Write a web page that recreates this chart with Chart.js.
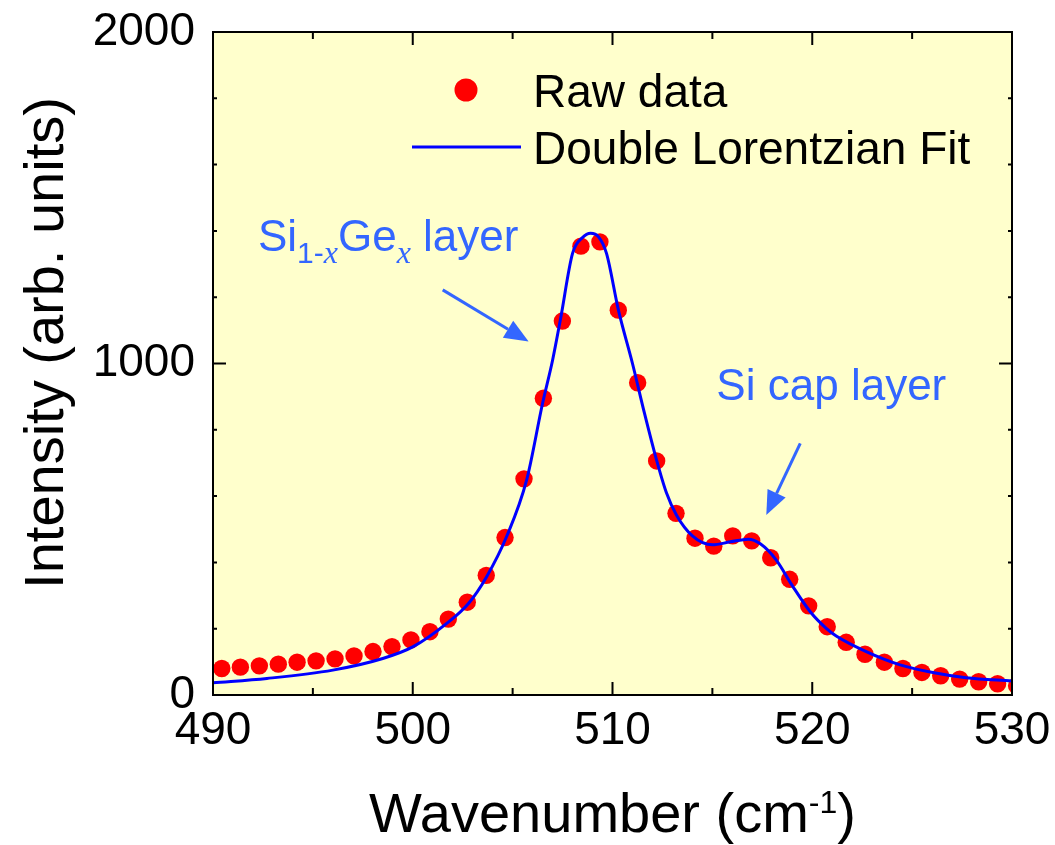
<!DOCTYPE html>
<html>
<head>
<meta charset="utf-8">
<script src="https://cdn.jsdelivr.net/npm/chart.js@4/dist/chart.umd.min.js"></script>
<style>
  body { margin: 0; background: #ffffff; }
  canvas { display: block; }
</style>
</head>
<body>
<canvas id="ramanChart" width="1055" height="845"></canvas>
<script>
// Raw Raman data
const rawWavenumber = [490.44, 491.37, 492.32, 493.27, 494.21, 495.16, 496.11, 497.06, 498.01, 498.96,
  499.91, 500.86, 501.78, 502.73, 503.68, 504.62, 505.57, 506.54, 507.49, 508.42,
  509.37, 510.29, 511.26, 512.21, 513.18, 514.13, 515.07, 516.02, 516.97, 517.92,
  518.87, 519.82, 520.75, 521.70, 522.64, 523.61, 524.54, 525.49, 526.43, 527.38,
  528.33, 529.28, 530.23];
const rawIntensity = [80, 84, 88, 93, 99, 103, 109, 118, 131, 146,
  166, 191, 229, 280, 361, 475, 652, 895, 1128, 1354,
  1367, 1161, 942, 706, 548, 473, 449, 480, 465, 414,
  349, 269, 206, 159, 123, 99, 80, 68, 58, 48,
  40, 34, 28];

// Double Lorentzian fit curve (traced)
const fitWavenumber = [490.0, 492.7, 496.0, 498.5, 500.0, 501.7, 502.8, 503.7, 504.7, 505.7,
  506.5, 507.0, 507.4, 508.0, 508.5, 508.9, 509.3, 509.7, 510.3, 511.0,
  511.6, 512.2, 512.7, 513.2, 514.0, 515.0, 515.9, 516.8, 517.4, 518.2,
  519.0, 519.9, 520.7, 521.2, 522.7, 524.4, 526.1, 527.7, 530.0];
const fitIntensity = [37, 50, 75, 110, 145, 216, 277, 357, 478, 648,
  880, 1010, 1135, 1332, 1380, 1393, 1382, 1332, 1160, 1000,
  850, 710, 610, 543, 480, 453, 462, 470, 456, 407,
  330, 251, 201, 178, 131, 91, 67, 52, 42];

const xTickLabels = [490, 500, 510, 520, 530];
const yTickLabels = [0, 1000, 2000];

const legendLabels = ["Raw data", "Double Lorentzian Fit"];

const SANS = 'Arial, "Liberation Sans", sans-serif';
const SERIF_IT = 'italic 32px "Liberation Serif", "Times New Roman", serif';
const ANNOT_BLUE = "#3366ff";

function toPoints(xs, ys) {
  return xs.map((x, i) => ({ x: x, y: ys[i] }));
}

// draws a list of text pieces one after another
function drawPieces(ctx, pieces, x, y, align) {
  let total = 0;
  pieces.forEach(p => { ctx.font = p.font; total += ctx.measureText(p.t).width; });
  let cx = align === "center" ? x - total / 2 : x;
  ctx.textAlign = "left";
  ctx.textBaseline = "alphabetic";
  pieces.forEach(p => {
    ctx.font = p.font;
    ctx.fillText(p.t, cx, y + (p.dy || 0));
    cx += ctx.measureText(p.t).width;
  });
}

function drawArrow(ctx, x1, y1, x2, y2) {
  const ang = Math.atan2(y2 - y1, x2 - x1);
  const headLen = 24, headHalf = 10;
  const bx = x2 - headLen * Math.cos(ang), by = y2 - headLen * Math.sin(ang);
  ctx.strokeStyle = ANNOT_BLUE;
  ctx.fillStyle = ANNOT_BLUE;
  ctx.lineWidth = 3;
  ctx.beginPath();
  ctx.moveTo(x1, y1);
  ctx.lineTo(bx, by);
  ctx.stroke();
  ctx.beginPath();
  ctx.moveTo(x2, y2);
  ctx.lineTo(bx + headHalf * Math.sin(ang), by - headHalf * Math.cos(ang));
  ctx.lineTo(bx - headHalf * Math.sin(ang), by + headHalf * Math.cos(ang));
  ctx.closePath();
  ctx.fill();
}

const decorations = {
  id: "decorations",
  beforeDraw(chart) {
    const { ctx, chartArea: a } = chart;
    ctx.save();
    ctx.fillStyle = "#ffffcc";
    ctx.fillRect(a.left, a.top, a.right - a.left, a.bottom - a.top);
    ctx.restore();
  },
  afterDraw(chart) {
    const { ctx, chartArea: a } = chart;
    const xs = chart.scales.x, ys = chart.scales.y;
    ctx.save();

    // frame + inward ticks
    ctx.strokeStyle = "#000";
    ctx.lineWidth = 2;
    ctx.strokeRect(a.left, a.top, a.right - a.left, a.bottom - a.top);
    ctx.beginPath();
    xs.ticks.forEach(t => {
      const px = xs.getPixelForValue(t.value);
      const len = xTickLabels.includes(t.value) ? 13 : 7;
      ctx.moveTo(px, a.bottom); ctx.lineTo(px, a.bottom - len);
      ctx.moveTo(px, a.top); ctx.lineTo(px, a.top + len);
    });
    ys.ticks.forEach(t => {
      const py = ys.getPixelForValue(t.value);
      const len = yTickLabels.includes(t.value) ? 13 : 4;
      ctx.moveTo(a.left, py); ctx.lineTo(a.left + len, py);
      ctx.moveTo(a.right, py); ctx.lineTo(a.right - len, py);
    });
    ctx.stroke();

    // legend
    ctx.fillStyle = "#ff0000";
    ctx.beginPath();
    ctx.arc(466, 90, 11.5, 0, Math.PI * 2);
    ctx.fill();
    ctx.strokeStyle = "#0000ff";
    ctx.lineWidth = 3;
    ctx.beginPath();
    ctx.moveTo(412, 147); ctx.lineTo(521, 147);
    ctx.stroke();
    ctx.fillStyle = "#000";
    ctx.font = "46px " + SANS;
    ctx.textAlign = "left";
    ctx.fillText(legendLabels[0], 533, 107);
    ctx.fillText(legendLabels[1], 533, 164);

    // annotations
    ctx.fillStyle = ANNOT_BLUE;
    drawPieces(ctx, [
      { t: "Si", font: "44px " + SANS },
      { t: "1-", font: "30px " + SANS, dy: 12 },
      { t: "x", font: SERIF_IT, dy: 12 },
      { t: "Ge", font: "44px " + SANS },
      { t: "x", font: SERIF_IT, dy: 12 },
      { t: " layer", font: "44px " + SANS }
    ], xs.getPixelForValue(492.25), ys.getPixelForValue(1340), "left");
    drawArrow(ctx, xs.getPixelForValue(501.5), ys.getPixelForValue(1222),
      xs.getPixelForValue(505.8), ys.getPixelForValue(1066));

    ctx.fillStyle = ANNOT_BLUE;
    drawPieces(ctx, [{ t: "Si cap layer", font: "44px " + SANS }],
      xs.getPixelForValue(515.2), ys.getPixelForValue(890), "left");
    drawArrow(ctx, xs.getPixelForValue(519.4), ys.getPixelForValue(759),
      xs.getPixelForValue(517.7), ys.getPixelForValue(543));

    // axis titles
    ctx.fillStyle = "#000";
    drawPieces(ctx, [
      { t: "Wavenumber (cm", font: "56px " + SANS },
      { t: "-1", font: "32px " + SANS, dy: -19 },
      { t: ")", font: "56px " + SANS }
    ], (a.left + a.right) / 2, 832, "center");

    ctx.translate(63, 343);
    ctx.rotate(-Math.PI / 2);
    drawPieces(ctx, [{ t: "Intensity (arb. units)", font: "56px " + SANS }], 0, 0, "center");
    ctx.restore();
  }
};

const ctx = document.getElementById("ramanChart").getContext("2d");
new Chart(ctx, {
  type: "scatter",
  data: {
    datasets: [
      {
        label: legendLabels[1],
        data: toPoints(fitWavenumber, fitIntensity),
        showLine: true,
        borderColor: "#0000ff",
        borderWidth: 3,
        pointRadius: 0,
        cubicInterpolationMode: "monotone",
        fill: false,
        order: 0
      },
      {
        label: legendLabels[0],
        data: toPoints(rawWavenumber, rawIntensity),
        backgroundColor: "#ff0000",
        borderWidth: 0,
        pointRadius: 8.7,
        clip: 0,
        order: 1
      }
    ]
  },
  options: {
    responsive: false,
    animation: false,
    devicePixelRatio: 1,
    layout: { padding: { top: 32, right: 43, left: 0, bottom: 0 } },
    plugins: {
      legend: { display: false },
      tooltip: { enabled: false }
    },
    scales: {
      x: {
        type: "linear",
        min: 490,
        max: 530,
        grid: { display: false, drawTicks: false },
        border: { display: false },
        ticks: {
          stepSize: 5,
          autoSkip: false,
          maxRotation: 0,
          padding: 4,
          color: "#000",
          font: { family: SANS, size: 46, lineHeight: 1.42 },
          callback: v => xTickLabels.includes(v) ? String(v) : ""
        },
        afterFit: s => { s.height = 150; }
      },
      y: {
        type: "linear",
        min: 0,
        max: 2000,
        grid: { display: false, drawTicks: false },
        border: { display: false },
        ticks: {
          stepSize: 200,
          autoSkip: false,
          padding: 18,
          color: "#000",
          font: { family: SANS, size: 46, lineHeight: 0.6 },
          callback: v => yTickLabels.includes(v) ? String(v) : ""
        },
        afterFit: s => { s.width = 213; }
      }
    }
  },
  plugins: [decorations]
});
</script>
</body>
</html>
